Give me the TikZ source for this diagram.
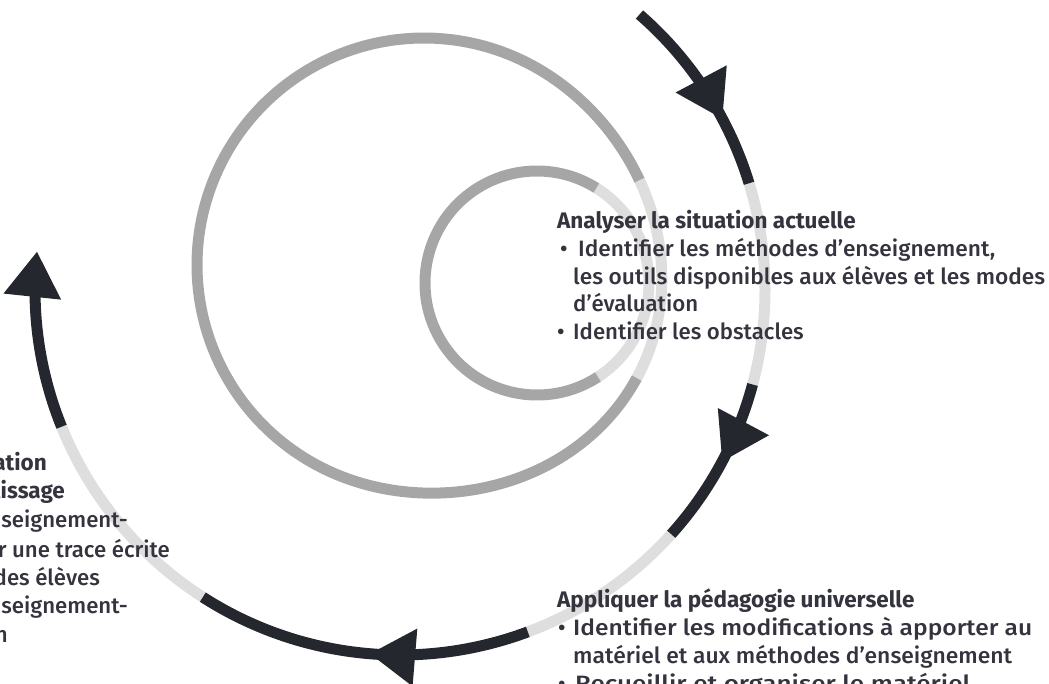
\documentclass[tikz,border=0pt]{standalone}
\usepackage{graphicx}
\usepackage{fontspec}
\IfFontExistsTF{Fira Sans Medium}
  {\setmainfont{Fira Sans Medium}[BoldFont={Fira Sans Bold}]}
  {\setmainfont{Fira Sans}}
\usetikzlibrary{calc}
\definecolor{darkc}{HTML}{25272F}
\definecolor{midg}{HTML}{A6A6A6}
\definecolor{lightg}{HTML}{DEDEDE}
\definecolor{txt}{HTML}{34343E}
\newcommand\fitw[2]{\resizebox{#1}{\height}{#2}}
\begin{document}
\begin{tikzpicture}[x=1pt,y=-1pt,
  ring/.style={line width=11pt, line cap=butt},
  body/.style={anchor=base west, inner sep=0pt, text=txt, font=\fontsize{22.2}{26}\selectfont},
  head/.style={body, font=\fontsize{22.5}{26}\selectfont\bfseries},
  bodyr/.style={body, anchor=base east},
  headr/.style={head, anchor=base east}]
\useasboundingbox (0,0) rectangle (1049,684);
\clip (0,0) rectangle (1049,684);
\coordinate (C) at (400,290);
\coordinate (S) at (537,283);
\coordinate (M) at (424,265);
% medium ring
\draw[ring, lightg] plot[domain=-23:29, samples=40] ({424+(227+14*(max(0,cos(\x-25)))^3)*cos(\x)},{265+(227+14*(max(0,cos(\x-25)))^3)*sin(\x)});
\draw[ring, midg] plot[domain=28:338.5, samples=180] ({424+(227+14*(max(0,cos(\x-25)))^3)*cos(\x)},{265+(227+14*(max(0,cos(\x-25)))^3)*sin(\x)});
% small ring
\draw[ring, lightg] (S) ++(-58:112) arc[start angle=-58, end angle=57, radius=112];
\draw[ring, midg] (S) ++(57:112) arc[start angle=57, end angle=302, radius=112];
% outer ring
\draw[ring, lightg] (C) ++(-17:365) arc[start angle=-17, end angle=15, radius=365];
\draw[ring, lightg] (C) ++(42:365) arc[start angle=42, end angle=69.5, radius=365];
\draw[ring, lightg] (C) ++(122.7:365) arc[start angle=122.7, end angle=158, radius=365];
\draw[ring, darkc] (C) ++(-49:365) arc[start angle=-49, end angle=-17, radius=365];
\draw[ring, darkc] (C) ++(15:365) arc[start angle=15, end angle=42, radius=365];
\draw[ring, darkc] (C) ++(69.5:365) arc[start angle=69.5, end angle=122.7, radius=365];
\draw[ring, darkc] (C) ++(158:365) arc[start angle=158, end angle=181, radius=365];
\foreach \a in {-28,28,94.7,186}{
  \fill[darkc] ($(C)+(\a:365)$) -- ($(C)+(\a:365)+(\a-90:45)+(\a:29)$) -- ($(C)+(\a:365)+(\a-90:45)+(\a+180:29)$) -- cycle;
}
% block 1
\node[head] (a1) at (557,229) {Analyser la situation actuelle};
\node[body] (a2b) at (560,257) {•};
\node[body] (a2) at (578,257) {\fitw{417pt}{Identifier les méthodes d’enseignement,}};
\node[body] (a3) at (573,285) {\fitw{472pt}{les outils disponibles aux élèves et les modes}};
\node[body] (a4) at (573,312) {d’évaluation};
\node[body] (a5b) at (557,340) {•};
\node[body] (a5) at (573,340) {Identifier les obstacles};
% block 2
\node[head] (b1) at (557,607) {Appliquer la pédagogie universelle};
\node[body] (b2b) at (558,635) {•};
\node[body] (b2) at (573,635) {\fitw{459pt}{Identifier les modifications à apporter au}};
\node[body] (b3) at (573,663) {\fitw{439pt}{matériel et aux méthodes d’enseignement}};
\node[body] (b4b) at (558,691) {•};
\node[body] (b4) at (575,691) {\fitw{395pt}{Recueillir et organiser le matériel}};
% block 3 (cut at the left edge)
\node[headr] (c1) at (47,470) {ation};
\node[headr] (c2) at (65,498) {tissage};
\node[bodyr] (c3) at (128,527) {nseignement-};
\node[bodyr] (c4) at (170,557) {r une trace écrite};
\node[bodyr] (c5) at (100,585) {des élèves};
\node[bodyr] (c6) at (128,613) {nseignement-};
\node[bodyr] (c7) at (8,642) {n};
\end{tikzpicture}
\end{document}
